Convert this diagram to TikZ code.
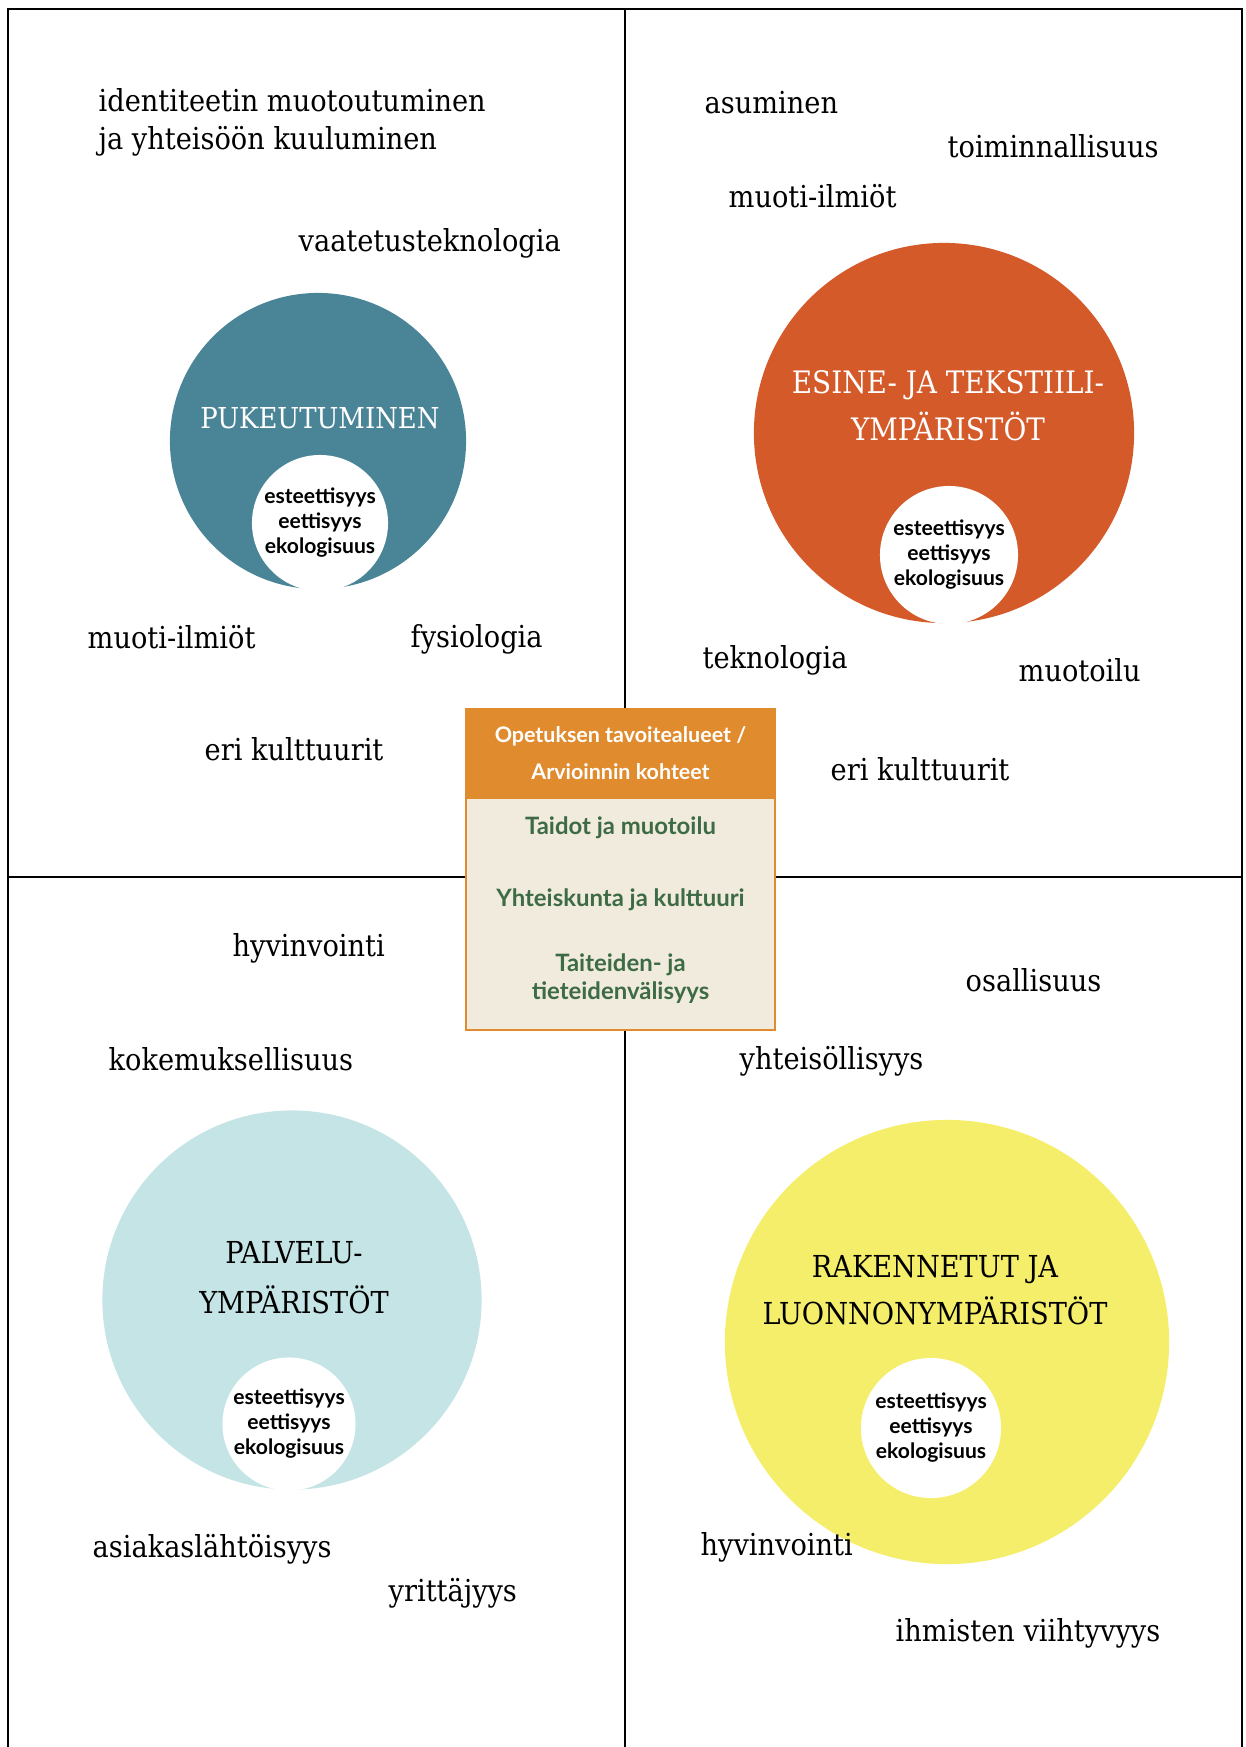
\documentclass[tikz,border=0pt]{standalone}
\usepackage{fontspec}
\setmainfont{DejaVu Serif Condensed}
\newfontfamily\gillfont{Lato}
\definecolor{pukblue}{HTML}{4A8597}
\definecolor{esorange}{HTML}{D45A2A}
\definecolor{palblue}{HTML}{C5E4E6}
\definecolor{rakyellow}{HTML}{F5EE6B}
\definecolor{headorange}{HTML}{E08B2E}
\definecolor{boxcream}{HTML}{F0EBDC}
\definecolor{goalgreen}{HTML}{3D6B45}
\begin{document}
\begin{tikzpicture}[x=0.01cm,y=-0.01cm]

    \tikzstyle{lbl} = [inner sep=0pt, anchor=west, align=left, font=\fontsize{8.6}{10.8}\selectfont]
    \tikzstyle{ttl} = [inner sep=0pt, align=center, font=\fontsize{8.6}{13.4}\selectfont]
    \tikzstyle{bigc} = [circle, inner sep=0pt]
    \tikzstyle{valc} = [circle, fill=white, inner sep=0pt, align=center, font=\gillfont\bfseries\fontsize{6}{7.1}\selectfont]
    \tikzstyle{goal} = [inner sep=0pt, align=center, text=goalgreen, font=\gillfont\bfseries\fontsize{6.8}{8}\selectfont]

    \useasboundingbox (0,0) rectangle (1246,1747);

    % frame
    \coordinate (bl) at (8,1747);
    \coordinate (tl) at (8,9);
    \coordinate (tr) at (1242,9);
    \coordinate (br) at (1242,1747);
    \coordinate (mt) at (625,9);
    \coordinate (mb) at (625,1747);
    \coordinate (ml) at (8,877);
    \coordinate (mr) at (1242,877);
    \draw[line width=0.8pt] (bl) -- (tl) -- (tr) -- (br);
    \draw[line width=0.8pt] (mt) -- (mb) (ml) -- (mr);

    % pukeutuminen
    \node[bigc, fill=pukblue, minimum size=2.96cm] (c1) at (318,441) {};
    \node[valc, minimum size=1.36cm] (v1) at (320,523) {esteettisyys\\eettisyys\\ekologisuus};
    \node[ttl, text=white, font=\fontsize{8.2}{13.4}\selectfont] (t1) at (320,418) {PUKEUTUMINEN};

    % esine- ja tekstiiliymparistot
    \node[bigc, fill=esorange, minimum size=3.80cm] (c2) at (944,433) {};
    \node[valc, minimum size=1.38cm] (v2) at (949,555) {esteettisyys\\eettisyys\\ekologisuus};
    \node[ttl, text=white, font=\fontsize{8.8}{13.4}\selectfont] (t2) at (948,406) {ESINE- JA TEKSTIILI-\\YMPÄRISTÖT};

    % palveluymparistot
    \node[bigc, fill=palblue, minimum size=3.79cm] (c3) at (292,1300) {};
    \node[valc, minimum size=1.33cm] (v3) at (289,1424) {esteettisyys\\eettisyys\\ekologisuus};
    \node[ttl, font=\fontsize{8.6}{14.2}\selectfont] (t3) at (294,1278) {PALVELU-\\YMPÄRISTÖT};

    % rakennetut ja luonnonymparistot
    \node[bigc, fill=rakyellow, minimum size=4.44cm] (c4) at (947,1342) {};
    \node[valc, minimum size=1.40cm] (v4) at (931,1428) {esteettisyys\\eettisyys\\ekologisuus};
    \node[ttl] (t4) at (935,1290) {RAKENNETUT JA\\LUONNONYMPÄRISTÖT};

    % labels
    \node[lbl] (l11) at (98,122) {identiteetin muotoutuminen\\ja yhteisöön kuuluminen};
    \node[lbl] (l12) at (298,243) {vaatetusteknologia};
    \node[lbl] (l13) at (87,637) {muoti-ilmiöt};
    \node[lbl] (l14) at (410,639) {fysiologia};
    \node[lbl] (l15) at (204,749) {eri kulttuurit};

    \node[lbl] (l21) at (704,103) {asuminen};
    \node[lbl] (l22) at (947,146) {toiminnallisuus};
    \node[lbl] (l23) at (728,196) {muoti-ilmiöt};
    \node[lbl] (l24) at (702,660) {teknologia};
    \node[lbl] (l25) at (1018,670) {muotoilu};
    \node[lbl] (l26) at (830,769) {eri kulttuurit};

    \node[lbl] (l31) at (232,948) {hyvinvointi};
    \node[lbl] (l32) at (108,1059) {kokemuksellisuus};
    \node[lbl] (l33) at (92,1549) {asiakaslähtöisyys};
    \node[lbl] (l34) at (388,1593) {yrittäjyys};

    \node[lbl] (l41) at (965,980) {osallisuus};
    \node[lbl] (l42) at (739,1061) {yhteisöllisyys};
    \node[lbl] (l43) at (700,1547) {hyvinvointi};
    \node[lbl] (l44) at (895,1633) {ihmisten viihtyvyys};

    % goal box
    \node[draw=headorange, fill=boxcream, line width=0.8pt, minimum width=3.09cm, minimum height=2.32cm] (bd) at (620.5,914) {};
    \node[draw=headorange, fill=headorange, line width=0.8pt, minimum width=3.09cm, minimum height=0.89cm, align=center, text=white, font=\gillfont\bfseries\fontsize{6.1}{10.5}\selectfont] (hd) at (620.5,753.5) {Opetuksen tavoitealueet /\\Arvioinnin kohteet};
    \node[goal] (g1) at (620.5,828) {Taidot ja muotoilu};
    \node[goal] (g2) at (620.5,900) {Yhteiskunta ja kulttuuri};
    \node[goal] (g3) at (620.5,979) {Taiteiden- ja\\tieteidenvälisyys};

\end{tikzpicture}
\end{document}
